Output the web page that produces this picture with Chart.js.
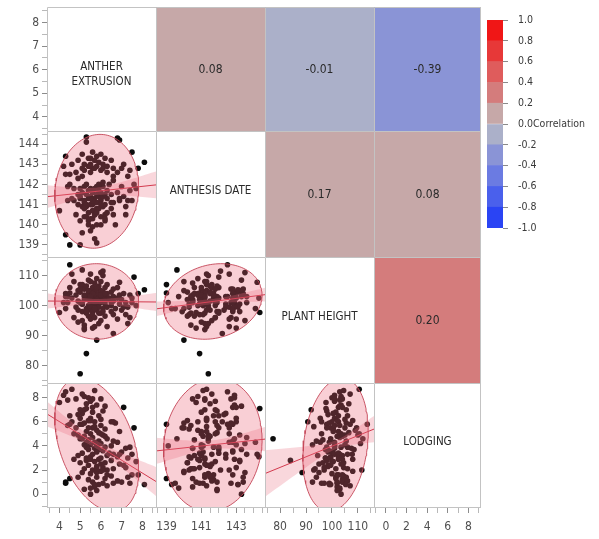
<!DOCTYPE html>
<html>
<head>
<meta charset="utf-8">
<script src="https://cdn.jsdelivr.net/npm/chart.js@4.4.1/dist/chart.umd.min.js"></script>
<style>
  html, body { margin: 0; padding: 0; background: #ffffff; }
  #wrap { position: relative; width: 599px; height: 539px; overflow: hidden; }
  #wrap canvas { position: absolute; }
</style>
</head>
<body>
<div id="wrap"></div>
<script>
// ---- data ---------------------------------------------------------------
const variables = ['ANTHER EXTRUSION', 'ANTHESIS DATE', 'PLANT HEIGHT', 'LODGING'];

const antherExtrusion = [
  4.0,4.2,4.3,4.3,4.3,4.5,4.5,4.5,4.6,4.6, 4.7,4.7,4.8,4.8,4.9,4.9,4.9,5.0,5.0,5.0,
  5.0,5.1,5.1,5.1,5.1,5.2,5.2,5.2,5.2,5.2, 5.3,5.3,5.3,5.3,5.3,5.3,5.4,5.4,5.4,5.4,
  5.4,5.4,5.5,5.5,5.5,5.5,5.5,5.5,5.5,5.6, 5.6,5.6,5.6,5.6,5.6,5.6,5.7,5.7,5.7,5.7,
  5.7,5.7,5.8,5.8,5.8,5.8,5.8,5.8,5.8,5.9, 5.9,5.9,5.9,5.9,6.0,6.0,6.0,6.0,6.0,6.0,
  6.0,6.1,6.1,6.1,6.1,6.1,6.2,6.2,6.2,6.2, 6.2,6.3,6.3,6.3,6.3,6.3,6.5,6.5,6.5,6.5,
  6.6,6.6,6.6,6.6,6.7,6.8,6.8,6.8,6.9,6.9, 7.0,7.0,7.1,7.1,7.2,7.2,7.3,7.4,7.4,7.5,
  7.5,7.6,7.8,8.1,5.1,5.2,5.3,5.4,5.5,5.6, 5.7,5.8,5.9,6.0,6.1,6.2,4.4,5.5,7.3,4.4,
  5.2,5.8,5.0,4.9,6.4,7.7,5.7,5.5,6.9,5.1, 6.6
];
const anthesisDate = [
  140.7,142.9,139.5,143.4,142.5,142.5,139.0,142.0,141.3,143.0, 141.2,141.8,140.5,142.6,141.5,143.2,141.0,139.0,141.4,141.3,
  140.2,142.8,141.6,140.9,143.5,141.1,141.2,140.4,142.7,141.9, 144.35,144.1,140.9,141.5,140.4,141.0,142.9,141.7,140.6,143.3,
  140.2,141.3,141.8,142.6,140.3,143.3,143.0,141.0,141.4,142.8, 139.9,141.6,140.3,143.6,141.0,140.7,141.1,141.3,143.2,140.5,
  140.5,141.8,140.0,139.1,142.9,141.5,140.8,141.1,143.4,141.7, 141.4,140.8,143.1,141.9,142.7,141.2,140.4,140.0,143.5,141.6,
  141.3,140.9,142.8,141.4,143.0,141.9,140.5,141.0,140.3,140.2, 143.3,141.7,142.9,140.6,141.3,142.6,141.1,141.5,143.2,140.8,
  142.4,141.1,142.8,140.5,140.0,144.3,141.6,142.6,141.2,141.3, 142.8,141.9,143.0,141.4,140.5,140.9,141.2,141.7,142.7,143.6,
  141.2,142.0,142.8,143.1,142.4,140.8,142.0,140.0,142.9,141.2, 142.8,140.6,142.0,141.0,142.1,141.5,141.9,141.3,142.4,141.2,
  143.0,141.9,141.8,142.3,142.0,141.8,139.3,139.7,144.2,139.6, 142.2
];
const plantHeight = [
  97.7,101.0,99.0,104.0,103.0,113.6,104.2,106.0,110.5,102.5, 108.0,96.0,103.5,99.5,101.5,105.0,94.5,107.0,77.3,101.0,
  104.5,98.0,107.0,100.5,95.0,102.0,92.0,93.5,105.5,103.0, 97.7,99.0,84.0,106.5,97.5,102.5,100.0,104.0,96.5,108.5,
  102.0,98.5,101.0,110.5,99.5,103.5,95.5,105.0,100.0,102.5, 98.0,106.0,97.0,103.0,101.5,92.5,104.5,93.0,100.5,107.5,
  102.0,96.0,88.5,101.0,103.5,98.5,109.0,100.0,105.5,102.5, 94.0,104.0,99.5,106.5,101.0,97.5,103.0,108.0,111.0,95.0,
  105.0,102.0,99.0,110.0,104.5,98.0,101.5,106.0,100.5,96.5, 103.0,102.0,99.5,104.0,107.0,93.0,101.0,104.5,98.0,100.0,
  103.0,97.0,105.5,101.5,99.0,102.5,106.0,95.5,103.5,100.5, 98.5,102.0,104.0,99.5,101.0,97.0,94.0,103.5,96.0,101.0,
  102.5,109.5,104.0,105.3,100.5,103.5,98.0,105.0,102.5,104.0, 101.0,106.0,97.5,103.5,111.5,104.0,101.0,108.0,99.5,103.0,
  92.5,102.0,105.5,98.5,102.5,100.0,99.0,103.0,107.8,111.9, 90.7
];
const lodging = [
  7.6,8.2,0.9,1.0,8.5,5.8,1.3,6.5,8.7,6.0, 2.9,5.0,7.9,5.5,1.4,4.9,3.2,5.8,4.6,6.3,
  2.6,5.8,8.3,3.4,1.8,4.8,7.0,2.1,5.9,0.4, 7.1,4.3,2.8,7.5,3.0,5.2,8.0,1.2,4.5,3.7,
  6.1,2.4,7.7,5.0,3.1,0.0,6.3,4.1,1.7,7.2, 5.5,3.3,2.0,4.7,6.8,1.0,8.6,5.6,2.7,3.8,
  0.6,6.0,1.8,4.0,7.4,2.3,5.3,3.5,1.4,6.5, 4.4,2.9,0.8,5.1,7.9,3.0,5.7,1.9,4.2,2.5,
  6.2,0.9,3.6,4.9,2.2,6.9,1.3,3.9,5.4,2.6, 7.3,1.6,4.6,3.2,0.7,2.0,4.0,1.5,2.8,6.0,
  3.3,0.9,4.4,2.1,5.9,3.1,1.1,4.3,2.5,5.2, 3.5,1.0,7.2,2.4,3.8,2.2,1.4,3.9,0.9,3.3,
  1.6,5.5,1.6,0.8,6.7,8.1,3.9,5.5,2.9,7.9, 4.3,2.1,3.7,5.0,2.0,4.8,5.7,6.1,3.0,7.8,
  4.1,0.3,7.0,6.6,3.4,2.7,0.8,0.5,3.3,4.6, 6.0
];

// pairwise correlations (upper triangle, row-major)
const correlationPairs  = [[0,1],[0,2],[0,3],[1,2],[1,3],[2,3]];
const correlationValues = [0.08, -0.01, -0.39, 0.17, 0.08, 0.20];

// axis tick labels per variable
const xTickLabels = [[4,5,6,7,8], [139,141,143], [80,90,100,110], [0,2,4,6,8]];
const yTickLabels = [[4,5,6,7,8], [139,140,141,142,143,144], [80,90,100,110], [0,2,4,6,8]];
const legendTicks = [-1.0,-0.8,-0.6,-0.4,-0.2,0.0,0.2,0.4,0.6,0.8,1.0];

// ---- layout & style -------------------------------------------------------
const W = 599, H = 539;
const colX = [47, 156, 265, 374, 481];
const rowY = [7, 131, 257, 383, 508];
const axisMin = [3.4, 138.4, 74.2, -1.15];
const axisMax = [8.66, 144.65, 116.2, 9.22];
const minorStep = [0.5, 0.5, 5, 1];
const FONT = '"Liberation Sans Narrow", "DejaVu Sans Condensed", "Liberation Sans", sans-serif';
const legendColors = ['#2a44f4','#4a60ec','#6b7be2','#8a94d6','#abb0c9',
                      '#c6a8a8','#d47c7c','#df5c5c','#e73838','#f01616'];
Chart.defaults.font.family = FONT;

const columns = [antherExtrusion, anthesisDate, plantHeight, lodging];
const wrap = document.getElementById('wrap');

function stats(arr) {
  const n = arr.length;
  const m = arr.reduce((a, b) => a + b, 0) / n;
  const v = arr.reduce((a, b) => a + (b - m) * (b - m), 0) / (n - 1);
  return { n, m, s: Math.sqrt(v) };
}
function corrOf(a, b) {
  const lo = Math.min(a, b), hi = Math.max(a, b);
  const k = correlationPairs.findIndex(p => p[0] === lo && p[1] === hi);
  return correlationValues[k];
}
function corrColor(r) {
  let k = Math.floor((r + 1) / 0.2 + 1e-9);
  k = Math.max(0, Math.min(legendColors.length - 1, k));
  return legendColors[k];
}
function tickMarks(v) {
  const st = minorStep[v], out = [];
  for (let k = Math.ceil(axisMin[v] / st); k * st <= axisMax[v] + 1e-9; k++) {
    out.push(Math.round(k * st * 1000) / 1000);
  }
  return out;
}

// 95% density ellipse for a bivariate normal with the given correlation
function densityEllipse(xs, ys, r) {
  const X = stats(xs), Y = stats(ys), c = Math.sqrt(5.991), pts = [];
  const q = Math.sqrt(1 - r * r);
  for (let k = 0; k <= 120; k++) {
    const t = 2 * Math.PI * k / 120;
    pts.push({ x: X.m + c * X.s * Math.cos(t),
               y: Y.m + c * Y.s * (r * Math.cos(t) + q * Math.sin(t)) });
  }
  return pts;
}
// least-squares fit with a 95% confidence band for the mean
function fitWithBand(xs, ys, r, lo, hi) {
  const X = stats(xs), Y = stats(ys), n = X.n;
  const b = r * Y.s / X.s, a = Y.m - b * X.m;
  const se = Y.s * Math.sqrt((1 - r * r) * (n - 1) / (n - 2));
  const sxx = (n - 1) * X.s * X.s, t = 1.976;
  const upper = [], lower = [];
  for (let k = 0; k <= 40; k++) {
    const x = lo + (hi - lo) * k / 40;
    const h = t * se * Math.sqrt(1 / n + (x - X.m) * (x - X.m) / sxx);
    upper.push({ x, y: a + b * x + h });
    lower.push({ x, y: a + b * x - h });
  }
  return { line: [{ x: lo, y: a + b * lo }, { x: hi, y: a + b * hi }], upper, lower };
}

// ---- plugins --------------------------------------------------------------
const cellFrame = {
  id: 'cellFrame',
  afterDraw(chart, args, o) {
    const { ctx, chartArea: a } = chart;
    ctx.save();
    ctx.strokeStyle = '#c3c3c3';
    ctx.lineWidth = 1;
    ctx.beginPath();
    ctx.moveTo(a.left + 0.5, a.bottom);
    ctx.lineTo(a.left + 0.5, a.top + 0.5);
    ctx.lineTo(a.right, a.top + 0.5);
    if (o.right) { ctx.moveTo(a.right - 0.5, a.top); ctx.lineTo(a.right - 0.5, a.bottom); }
    if (o.bottom) { ctx.moveTo(a.left, a.bottom - 0.5); ctx.lineTo(a.right, a.bottom - 0.5); }
    ctx.stroke();
    ctx.restore();
  }
};
const corrCell = {
  id: 'corrCell',
  beforeDatasetsDraw(chart, args, o) {
    if (o.r === undefined || o.r === null) return;
    const { ctx, chartArea: a } = chart;
    ctx.save();
    ctx.fillStyle = corrColor(o.r);
    ctx.fillRect(a.left, a.top, a.right - a.left, a.bottom - a.top);
    ctx.fillStyle = '#2a2a2a';
    ctx.font = '12px ' + FONT;
    ctx.textAlign = 'center';
    ctx.textBaseline = 'middle';
    ctx.fillText(o.r.toFixed(2), (a.left + a.right) / 2, (a.top + a.bottom) / 2 + 1);
    ctx.restore();
  }
};
const diagLabel = {
  id: 'diagLabel',
  afterDraw(chart, args, o) {
    if (!o.text) return;
    const { ctx, chartArea: a } = chart;
    ctx.save();
    ctx.fillStyle = '#2a2a2a';
    ctx.font = '11.5px ' + FONT;
    ctx.textAlign = 'center';
    ctx.textBaseline = 'middle';
    let lines = [o.text];
    if (ctx.measureText(o.text).width > 88) lines = o.text.split(' ');
    const cx = (a.left + a.right) / 2, cy = (a.top + a.bottom) / 2;
    const lh = 15;
    const y0 = cy - (lines.length - 1) * lh / 2 + (lines.length > 1 ? 6 : -3);
    lines.forEach((s, k) => ctx.fillText(s, cx, y0 + k * lh));
    ctx.restore();
  }
};

function axisScale(v, axis, show) {
  const labels = axis === 'x' ? xTickLabels[v] : yTickLabels[v];
  const isMajor = val => labels.some(t => Math.abs(t - val) < 1e-6);
  return {
    type: 'linear',
    display: show,
    position: axis === 'x' ? 'bottom' : 'left',
    min: axisMin[v],
    max: axisMax[v],
    afterBuildTicks(s) { s.ticks = tickMarks(v).map(value => ({ value })); },
    afterFit(s) {
      // the chart area must cover the whole cell: no label overhang padding
      s.paddingTop = 0; s.paddingBottom = 0; s.paddingLeft = 0; s.paddingRight = 0;
      if (!show) { if (axis === 'x') s.height = 0; else s.width = 0; return; }
      if (axis === 'x') s.height = H - rowY[4];
      else s.width = colX[0];
    },
    ticks: {
      autoSkip: false, maxRotation: 0, minRotation: 0,
      padding: axis === 'x' ? 7 : 3,
      color: '#4f4f4f',
      font: { family: FONT, size: 12 },
      callback(val) { const m = labels.find(t => Math.abs(t - val) < 1e-6); return m === undefined ? '' : String(m); }
    },
    grid: {
      drawOnChartArea: false, drawTicks: true, tickLength: 5,
      tickColor: ctx => (ctx.tick && isMajor(ctx.tick.value)) ? '#8c8c8c' : '#b9b9b9'
    },
    border: { display: false }
  };
}

// ---- matrix cells ---------------------------------------------------------
function makeCell(i, j) {
  const left = j === 0 ? 0 : colX[j];
  const right = colX[j + 1];
  const top = rowY[i];
  const bottom = i === 3 ? H : rowY[i + 1];
  const cv = document.createElement('canvas');
  cv.width = right - left; cv.height = bottom - top;
  cv.style.left = left + 'px'; cv.style.top = top + 'px';
  cv.style.width = cv.width + 'px'; cv.style.height = cv.height + 'px';
  wrap.appendChild(cv);

  let datasets = [{ type: 'scatter', data: [] }];
  const opts = { cellFrame: { right: j === 3, bottom: i === 3 }, corrCell: {}, diagLabel: {} };

  if (i > j) {
    const xs = columns[j], ys = columns[i], r = corrOf(i, j);
    const fit = fitWithBand(xs, ys, r, axisMin[j], axisMax[j]);
    datasets = [
      { type: 'line', data: densityEllipse(xs, ys, r), order: 0, fill: 'shape',
        borderColor: 'rgba(196,70,88,0.9)', borderWidth: 1, backgroundColor: 'rgba(236,96,116,0.30)',
        pointRadius: 0, tension: 0, clip: 0 },
      { type: 'line', data: fit.line, order: 1, fill: false,
        borderColor: '#d23a4e', borderWidth: 1, pointRadius: 0, clip: 0 },
      { type: 'line', data: fit.upper, order: 2, fill: 3,
        borderColor: 'rgba(0,0,0,0)', backgroundColor: 'rgba(232,112,128,0.28)', pointRadius: 0, clip: 0 },
      { type: 'line', data: fit.lower, order: 3, fill: false,
        borderColor: 'rgba(0,0,0,0)', pointRadius: 0, clip: 0 },
      { type: 'scatter', data: xs.map((x, k) => ({ x, y: ys[k] })), order: 4,
        pointRadius: 2.8, pointBackgroundColor: '#0c0c0c', pointBorderWidth: 0, clip: 0 }
    ];
  } else if (i < j) {
    opts.corrCell = { r: corrOf(i, j) };
  } else {
    opts.diagLabel = { text: variables[i] };
  }

  new Chart(cv.getContext('2d'), {
    type: 'scatter',
    data: { datasets },
    options: {
      responsive: false, animation: false, events: [],
      layout: { padding: 0, autoPadding: false },
      plugins: Object.assign({ legend: { display: false }, tooltip: { enabled: false } }, opts),
      scales: { x: axisScale(j, 'x', i === 3), y: axisScale(i, 'y', j === 0) }
    },
    plugins: [cellFrame, corrCell, diagLabel]
  });
}
for (let i = 0; i < 4; i++) for (let j = 0; j < 4; j++) makeCell(i, j);

// ---- correlation colour legend -------------------------------------------
(function () {
  const cv = document.createElement('canvas');
  cv.width = 112; cv.height = 245;
  cv.style.left = '487px'; cv.style.top = '0px';
  cv.style.width = '112px'; cv.style.height = '245px';
  wrap.appendChild(cv);
  const legendTitle = {
    id: 'legendTitle',
    afterDraw(chart) {
      const { ctx, chartArea: a } = chart;
      const y = chart.scales.y.getPixelForValue(0);
      ctx.save();
      ctx.font = '10.5px ' + FONT;
      ctx.fillStyle = '#3a3a3a';
      ctx.textBaseline = 'middle';
      const x = a.right + 5 + 10 + ctx.measureText('0.0').width;
      ctx.fillText('Correlation', x, y);
      ctx.restore();
    }
  };
  new Chart(cv.getContext('2d'), {
    type: 'bar',
    data: {
      labels: ['r'],
      datasets: legendColors.map((c, k) => ({
        data: [[legendTicks[k], legendTicks[k + 1]]], backgroundColor: c, borderWidth: 0,
        barPercentage: 1, categoryPercentage: 1, grouped: false
      }))
    },
    options: {
      responsive: false, animation: false, events: [],
      layout: { padding: { top: 20, bottom: 17, left: 0, right: 0 }, autoPadding: false },
      plugins: { legend: { display: false }, tooltip: { enabled: false } },
      scales: {
        x: { display: false },
        y: {
          position: 'right', min: -1, max: 1,
          afterBuildTicks(s) { s.ticks = legendTicks.map(value => ({ value })); },
          afterFit(s) { s.width = 96; s.paddingTop = 0; s.paddingBottom = 0; },
          ticks: { padding: 10, color: '#3a3a3a', font: { family: FONT, size: 10.5 },
                   callback: v => v.toFixed(1) },
          grid: { drawOnChartArea: false, tickLength: 5, tickColor: '#8a8a8a' },
          border: { display: false }
        }
      }
    },
    plugins: [legendTitle]
  });
})();
</script>
</body>
</html>
